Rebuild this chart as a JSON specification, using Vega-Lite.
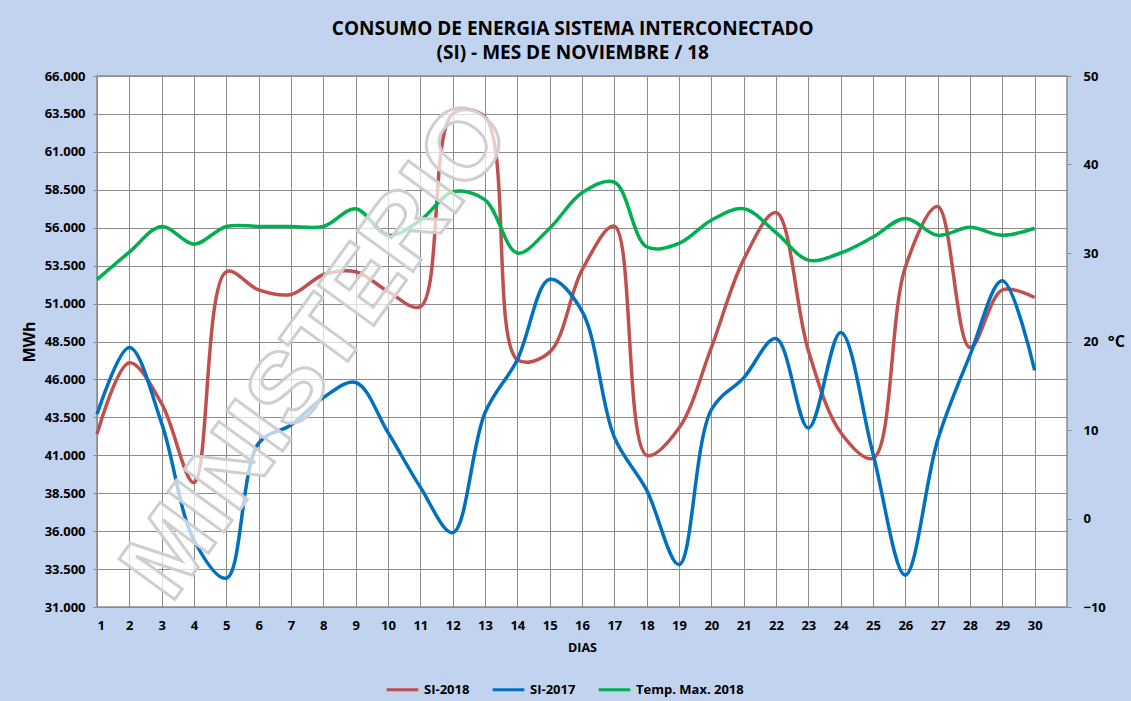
{
  "$schema": "https://vega.github.io/schema/vega-lite/v6.json",
  "width": 970,
  "height": 531,
  "autosize": {"type": "none"},
  "padding": {"left": 97, "top": 76, "right": 64, "bottom": 94},
  "background": "#c1d3ee",
  "title": {
    "text": ["CONSUMO DE ENERGIA SISTEMA INTERCONECTADO", "(SI) -  MES DE NOVIEMBRE / 18"],
    "anchor": "middle",
    "frame": "bounds",
    "font": "Open Sans",
    "fontSize": 19,
    "fontWeight": "bold",
    "lineHeight": 24,
    "offset": 7,
    "color": "#000000"
  },
  "datasets": {
    "energia": [
      {"dia": 1, "serie": "SI-2018", "mwh": 42400}, {"dia": 2, "serie": "SI-2018", "mwh": 47100},
      {"dia": 3, "serie": "SI-2018", "mwh": 44400}, {"dia": 4, "serie": "SI-2018", "mwh": 39200},
      {"dia": 5, "serie": "SI-2018", "mwh": 53100}, {"dia": 6, "serie": "SI-2018", "mwh": 51900},
      {"dia": 7, "serie": "SI-2018", "mwh": 51600}, {"dia": 8, "serie": "SI-2018", "mwh": 52900},
      {"dia": 9, "serie": "SI-2018", "mwh": 53100}, {"dia": 10, "serie": "SI-2018", "mwh": 51800},
      {"dia": 11, "serie": "SI-2018", "mwh": 50800}, {"dia": 12, "serie": "SI-2018", "mwh": 63500},
      {"dia": 13, "serie": "SI-2018", "mwh": 63300}, {"dia": 14, "serie": "SI-2018", "mwh": 47300},
      {"dia": 15, "serie": "SI-2018", "mwh": 47800}, {"dia": 16, "serie": "SI-2018", "mwh": 53200},
      {"dia": 17, "serie": "SI-2018", "mwh": 56100}, {"dia": 18, "serie": "SI-2018", "mwh": 41000},
      {"dia": 19, "serie": "SI-2018", "mwh": 42800}, {"dia": 20, "serie": "SI-2018", "mwh": 48100},
      {"dia": 21, "serie": "SI-2018", "mwh": 53900}, {"dia": 22, "serie": "SI-2018", "mwh": 57000},
      {"dia": 23, "serie": "SI-2018", "mwh": 47900}, {"dia": 24, "serie": "SI-2018", "mwh": 42500},
      {"dia": 25, "serie": "SI-2018", "mwh": 40800}, {"dia": 26, "serie": "SI-2018", "mwh": 53400},
      {"dia": 27, "serie": "SI-2018", "mwh": 57400}, {"dia": 28, "serie": "SI-2018", "mwh": 48100},
      {"dia": 29, "serie": "SI-2018", "mwh": 51900}, {"dia": 30, "serie": "SI-2018", "mwh": 51400},
      {"dia": 1, "serie": "SI-2017", "mwh": 43700}, {"dia": 2, "serie": "SI-2017", "mwh": 48100},
      {"dia": 3, "serie": "SI-2017", "mwh": 43100}, {"dia": 4, "serie": "SI-2017", "mwh": 35400},
      {"dia": 5, "serie": "SI-2017", "mwh": 32900}, {"dia": 6, "serie": "SI-2017", "mwh": 41800},
      {"dia": 7, "serie": "SI-2017", "mwh": 43000}, {"dia": 8, "serie": "SI-2017", "mwh": 44800},
      {"dia": 9, "serie": "SI-2017", "mwh": 45800}, {"dia": 10, "serie": "SI-2017", "mwh": 42500},
      {"dia": 11, "serie": "SI-2017", "mwh": 38900}, {"dia": 12, "serie": "SI-2017", "mwh": 35900},
      {"dia": 13, "serie": "SI-2017", "mwh": 43800}, {"dia": 14, "serie": "SI-2017", "mwh": 47300},
      {"dia": 15, "serie": "SI-2017", "mwh": 52600}, {"dia": 16, "serie": "SI-2017", "mwh": 50500},
      {"dia": 17, "serie": "SI-2017", "mwh": 42200}, {"dia": 18, "serie": "SI-2017", "mwh": 38700},
      {"dia": 19, "serie": "SI-2017", "mwh": 33800}, {"dia": 20, "serie": "SI-2017", "mwh": 44000},
      {"dia": 21, "serie": "SI-2017", "mwh": 46100}, {"dia": 22, "serie": "SI-2017", "mwh": 48700},
      {"dia": 23, "serie": "SI-2017", "mwh": 42800}, {"dia": 24, "serie": "SI-2017", "mwh": 49100},
      {"dia": 25, "serie": "SI-2017", "mwh": 41100}, {"dia": 26, "serie": "SI-2017", "mwh": 33100},
      {"dia": 27, "serie": "SI-2017", "mwh": 42000}, {"dia": 28, "serie": "SI-2017", "mwh": 47600},
      {"dia": 29, "serie": "SI-2017", "mwh": 52500}, {"dia": 30, "serie": "SI-2017", "mwh": 46600}
    ],
    "temp": [
      {"dia": 1, "serie": "Temp. Max. 2018", "temp": 27.0}, {"dia": 2, "serie": "Temp. Max. 2018", "temp": 30.1},
      {"dia": 3, "serie": "Temp. Max. 2018", "temp": 33.0}, {"dia": 4, "serie": "Temp. Max. 2018", "temp": 31.0},
      {"dia": 5, "serie": "Temp. Max. 2018", "temp": 33.0}, {"dia": 6, "serie": "Temp. Max. 2018", "temp": 33.0},
      {"dia": 7, "serie": "Temp. Max. 2018", "temp": 33.0}, {"dia": 8, "serie": "Temp. Max. 2018", "temp": 33.0},
      {"dia": 9, "serie": "Temp. Max. 2018", "temp": 35.0}, {"dia": 10, "serie": "Temp. Max. 2018", "temp": 32.0},
      {"dia": 11, "serie": "Temp. Max. 2018", "temp": 33.7}, {"dia": 12, "serie": "Temp. Max. 2018", "temp": 36.9},
      {"dia": 13, "serie": "Temp. Max. 2018", "temp": 36.0}, {"dia": 14, "serie": "Temp. Max. 2018", "temp": 30.0},
      {"dia": 15, "serie": "Temp. Max. 2018", "temp": 32.8}, {"dia": 16, "serie": "Temp. Max. 2018", "temp": 36.8},
      {"dia": 17, "serie": "Temp. Max. 2018", "temp": 38.0}, {"dia": 18, "serie": "Temp. Max. 2018", "temp": 30.7},
      {"dia": 19, "serie": "Temp. Max. 2018", "temp": 31.1}, {"dia": 20, "serie": "Temp. Max. 2018", "temp": 33.7},
      {"dia": 21, "serie": "Temp. Max. 2018", "temp": 35.0}, {"dia": 22, "serie": "Temp. Max. 2018", "temp": 32.3},
      {"dia": 23, "serie": "Temp. Max. 2018", "temp": 29.2}, {"dia": 24, "serie": "Temp. Max. 2018", "temp": 30.0},
      {"dia": 25, "serie": "Temp. Max. 2018", "temp": 31.8}, {"dia": 26, "serie": "Temp. Max. 2018", "temp": 33.9},
      {"dia": 27, "serie": "Temp. Max. 2018", "temp": 32.0}, {"dia": 28, "serie": "Temp. Max. 2018", "temp": 32.9},
      {"dia": 29, "serie": "Temp. Max. 2018", "temp": 32.0}, {"dia": 30, "serie": "Temp. Max. 2018", "temp": 32.8}
    ]
  },
  "encoding": {
    "x": {
      "field": "dia",
      "type": "quantitative",
      "scale": {"domain": [1, 31], "nice": false, "zero": false},
      "axis": {
        "values": [1,2,3,4,5,6,7,8,9,10,11,12,13,14,15,16,17,18,19,20,21,22,23,24,25,26,27,28,29,30],
        "title": "DIAS",
        "grid": true,
        "gridColor": "#8c8c8c",
        "gridWidth": 1,
        "domain": false,
        "ticks": false,
        "labelPadding": 12,
        "labelFontSize": 13,
        "labelFontWeight": "bold",
        "titlePadding": 9,
        "titleFontSize": 12.5
      }
    }
  },
  "layer": [
    {
      "data": {"name": "energia"},
      "encoding": {
        "y": {
          "field": "mwh",
          "type": "quantitative",
          "scale": {"domain": [31000, 66000], "nice": false, "zero": false},
          "axis": {
            "values": [31000, 33500, 36000, 38500, 41000, 43500, 46000, 48500, 51000, 53500, 56000, 58500, 61000, 63500, 66000],
            "labelExpr": "replace(format(datum.value, ',d'), ',', '.')",
            "title": "MWh",
            "grid": true,
            "gridColor": "#8c8c8c",
            "gridWidth": 1,
            "domain": false,
            "tickSize": 4,
            "tickColor": "#8c8c8c",
            "labelPadding": 8,
            "labelFontSize": 13,
            "labelFontWeight": "bold",
            "titleFontSize": 16,
            "titlePadding": 7
          }
        },
        "color": {
          "field": "serie",
          "type": "nominal",
          "scale": {
            "domain": ["SI-2018", "SI-2017", "Temp. Max. 2018"],
            "range": ["#c0504d", "#0070c0", "#00b050"]
          },
          "legend": {
            "title": null,
            "orient": "none",
            "legendX": 288,
            "legendY": 596,
            "direction": "horizontal",
            "symbolType": "stroke",
            "symbolStrokeWidth": 3,
            "symbolSize": 1000,
            "labelFontSize": 13,
            "labelFontWeight": "bold",
            "columnPadding": 16,
            "labelOffset": 4
          }
        }
      },
      "layer": [
        {
          "transform": [{"filter": "datum.serie === 'SI-2018'"}],
          "mark": {"type": "line", "interpolate": "catmull-rom", "strokeWidth": 3.5}
        },
        {
          "transform": [{"filter": "datum.serie === 'SI-2017'"}],
          "mark": {"type": "line", "interpolate": "catmull-rom", "strokeWidth": 3.5}
        }
      ]
    },
    {
      "layer": [
        {
          "data": {"name": "temp"},
          "mark": {"type": "line", "interpolate": "catmull-rom", "strokeWidth": 3.5},
          "encoding": {
            "y": {
              "field": "temp",
              "type": "quantitative",
              "scale": {"domain": [-10, 50], "nice": false, "zero": false},
              "axis": {
                "orient": "right",
                "values": [-10, 0, 10, 20, 30, 40, 50],
                "title": "°C",
                "titleAngle": 0,
                "titleAlign": "left",
                "titleBaseline": "middle",
                "titleFontSize": 16,
                "titlePadding": 2,
                "grid": false,
                "domain": false,
                "tickSize": 4,
                "tickColor": "#8c8c8c",
                "labelPadding": 12,
                "labelFontSize": 13,
                "labelFontWeight": "bold"
              }
            },
            "color": {"field": "serie", "type": "nominal"}
          }
        }
      ]
    },
    {
      "data": {"values": [{"t": "MINISTERIO", "dx": 7.83, "ty": 18.9}]},
      "mark": {
        "type": "text",
        "font": "Liberation Sans",
        "fontWeight": "bold",
        "fontSize": 100,
        "angle": -54,
        "align": "center",
        "baseline": "middle",
        "fill": "#ffffff",
        "fillOpacity": 0.7,
        "stroke": "#cfcfcf",
        "strokeWidth": 3
      },
      "encoding": {
        "x": {"field": "dx", "type": "quantitative"},
        "y": {"field": "ty", "type": "quantitative", "scale": {"domain": [-10, 50], "nice": false, "zero": false}, "axis": null},
        "text": {"field": "t", "type": "nominal"}
      }
    }
  ],
  "resolve": {"scale": {"y": "independent"}},
  "config": {
    "font": "Open Sans",
    "view": {"fill": "#ffffff", "stroke": "#8c8c8c", "strokeWidth": 1.5},
    "axis": {"labelColor": "#000000", "titleColor": "#000000", "labelFont": "Open Sans", "titleFont": "Open Sans", "titleFontWeight": "bold"},
    "legend": {"labelColor": "#000000", "labelFont": "Open Sans"}
  }
}
